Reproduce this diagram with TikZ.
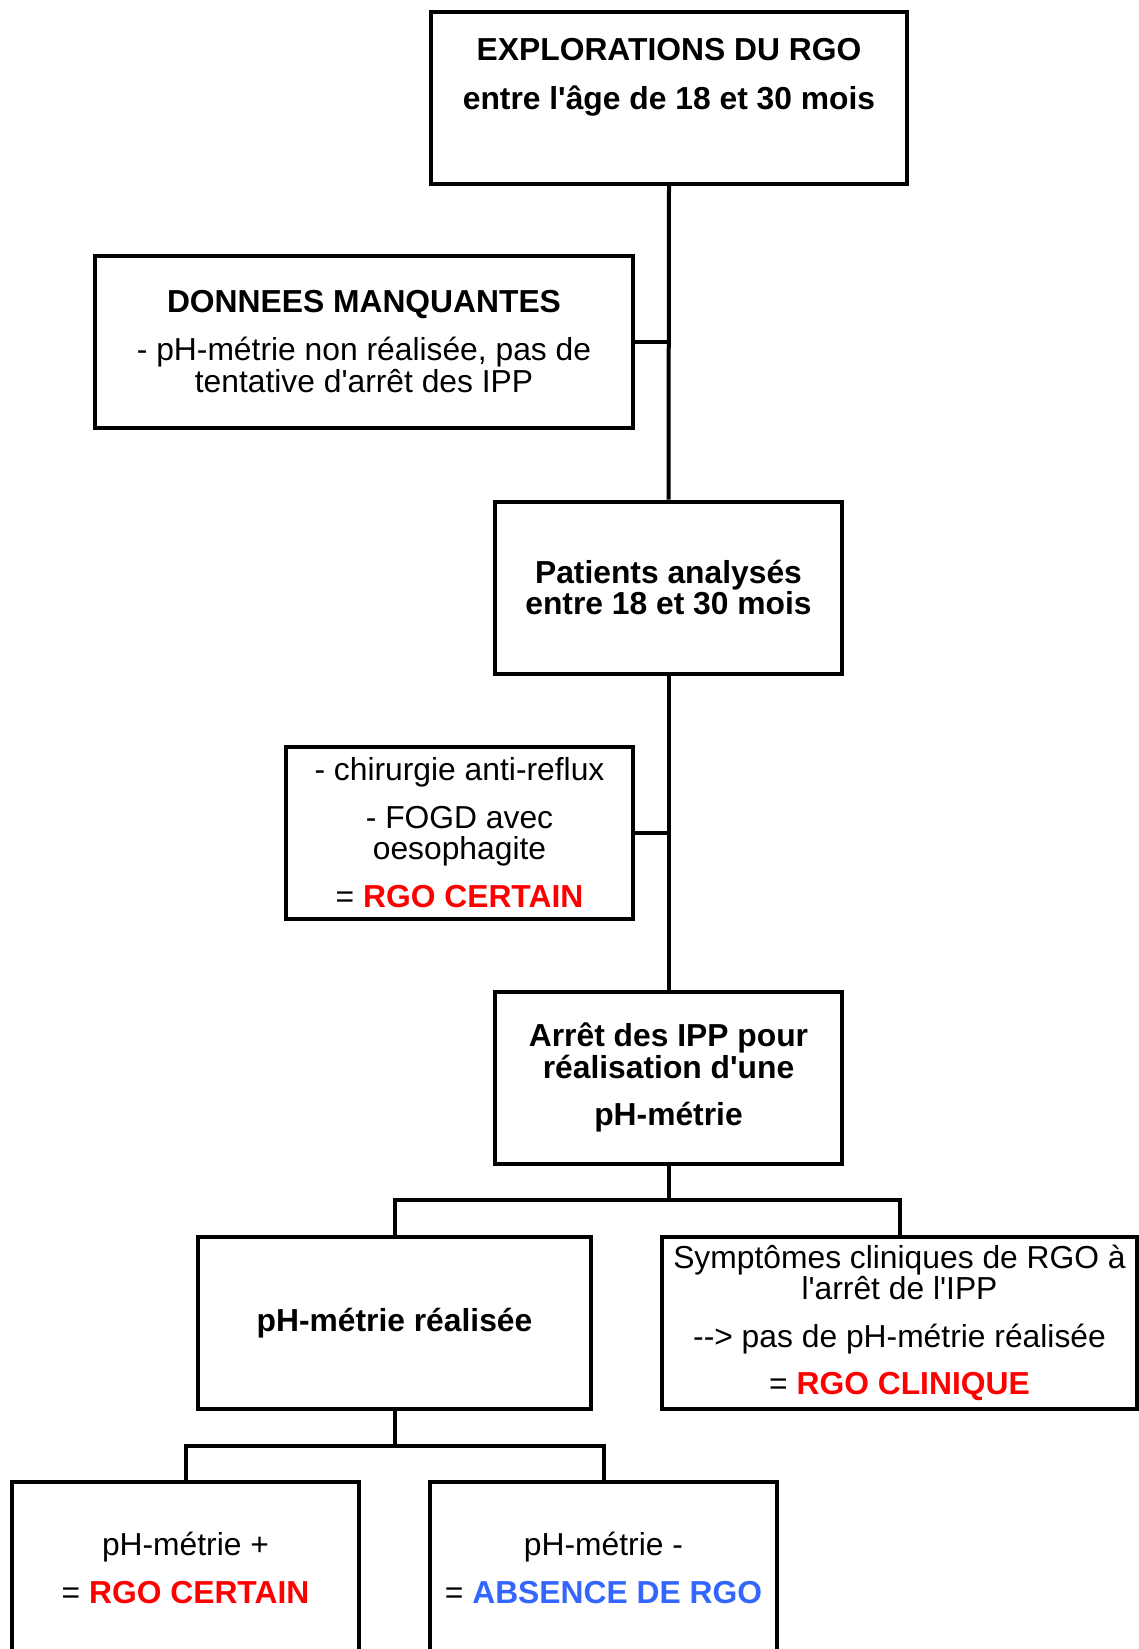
\documentclass[tikz,border=0pt]{standalone}
\usepackage{fontspec}
\newfontfamily\arial{Liberation Sans}
\definecolor{rgored}{RGB}{255,0,0}
\definecolor{rgoblue}{RGB}{51,102,255}
\tikzset{
	boite/.style={draw, line width=2pt, align=center, inner sep=2pt,
		font=\arial\fontsize{15.9}{15.8}\selectfont},
	lien/.style={line width=2pt},
}
\begin{document}
\begin{tikzpicture}[x=.5pt,y=-.5pt]
				\def\hauteur{86pt}
				%\def\largeur{173.5pt}
				
				\useasboundingbox (0,0) rectangle (1139,1649);
				
				\node[boite, minimum width=238pt, minimum height=\hauteur] (explo) at (669,98)
				{\textbf{EXPLORATIONS DU RGO}\\[8.5pt]\textbf{entre l'âge de 18 et 30 mois}\\[8.5pt]\mbox{}};
				\node[boite, minimum width=269pt, minimum height=\hauteur] (donnees) at (364,341.5)
				{\textbf{DONNEES MANQUANTES}\\[8.2pt]- pH-métrie non réalisée, pas de\\tentative d'arrêt des IPP};
				\node[boite, minimum width=173.5pt, minimum height=\hauteur] (patients) at (668.5,587.5)
				{\textbf{Patients analysés}\\\textbf{entre 18 et 30 mois}};
				\node[boite, minimum width=173.5pt, minimum height=\hauteur] (chir) at (459.5,832.5)
				{- chirurgie anti-reflux\\[8pt]- FOGD avec\\oesophagite\\[8pt]= \textcolor{rgored}{\textbf{RGO CERTAIN}}};
				\node[boite, minimum width=173.5pt, minimum height=\hauteur] (arret) at (668.5,1077.5)
				{\textbf{Arrêt des IPP pour}\\\textbf{réalisation d'une}\\[8pt]\textbf{pH-métrie}};
				\node[boite, minimum width=196.5pt, minimum height=\hauteur] (phreal) at (394.5,1323)
				{\textbf{pH-métrie réalisée}};
				\node[boite, minimum width=237.5pt, minimum height=\hauteur] (sympt) at (899.5,1323)
				{Symptômes cliniques de RGO à\\l'arrêt de l'IPP\\[8pt]--> pas de pH-métrie réalisée\\[8pt]= \textcolor{rgored}{\textbf{RGO CLINIQUE}}};
				\node[boite, minimum width=173.5pt, minimum height=\hauteur] (phplus) at (185.5,1568)
				{pH-métrie +\\[8pt]= \textcolor{rgored}{\textbf{RGO CERTAIN}}};
				\node[boite, minimum width=173.5pt, minimum height=\hauteur] (phmoins) at (603.5,1568)
				{pH-métrie -\\[8pt]= \textcolor{rgoblue}{\textbf{ABSENCE DE RGO}}};
				
				\coordinate (fourchei) at (668.5,1200);
				\coordinate (fourcheii) at (394.5,1446);
				
				\draw[lien] (explo.south) -- (patients.north);
				\draw[lien] (donnees.east) -- (donnees.east -| explo.south);
				\draw[lien] (patients.south) -- (arret.north);
				\draw[lien] (chir.east) -- (chir.east -| arret.north);
				\draw[lien] (arret.south) -- (fourchei);
				\draw[lien] (phreal.north) |- (fourchei) -| (sympt.north);
				\draw[lien] (phreal.south) -- (fourcheii);
				\draw[lien] (phplus.north) |- (fourcheii) -| (phmoins.north);
			\end{tikzpicture}
\end{document}
